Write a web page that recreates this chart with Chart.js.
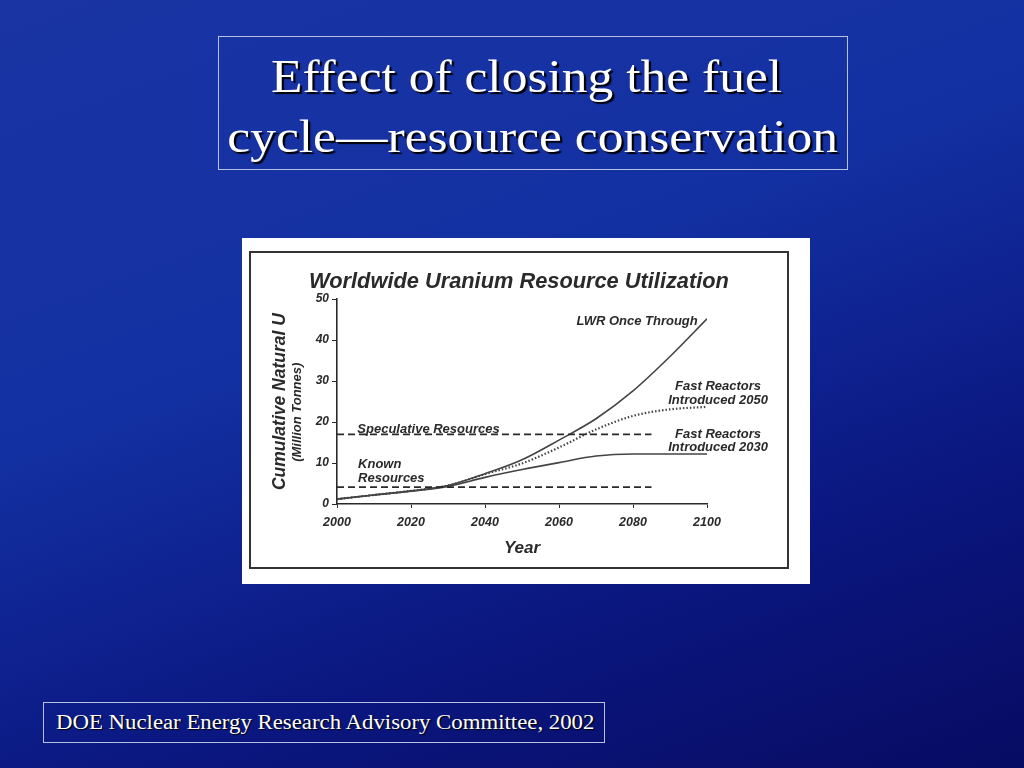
<!DOCTYPE html>
<html>
<head>
<meta charset="utf-8">
<script src="https://cdn.jsdelivr.net/npm/chart.js@4"></script>
<style>
  body { margin: 0; width: 1024px; height: 768px; overflow: hidden;
    background: linear-gradient(160deg, #1a34a4 0%, #1330a2 40%, #0b1882 70%, #070b62 100%);
    position: relative; font-family: "Liberation Serif", "Times New Roman", serif; }
  #titleBox { position: absolute; left: 218px; top: 36px; width: 630px; height: 134px;
    border: 1px solid #b8c0e0; box-sizing: border-box; color: #fff; text-align: center;
    font-size: 46px; line-height: 60px; padding-top: 10px; text-shadow: 2px 2px 1px #000; }
  #titleBox span { display: inline-block; transform: scaleX(1.12); white-space: pre; }
  #imgBox { position: absolute; left: 242px; top: 238px; width: 568px; height: 346px; background: #fff; }
  #frame { position: absolute; left: 7px; top: 13px; width: 540px; height: 318px;
    border: 2px solid #333; box-sizing: border-box; }
  #chartWrap { position: absolute; left: 0; top: 0; width: 536px; height: 314px; }
  #footBox { position: absolute; left: 43px; top: 702px; width: 562px; height: 41px;
    border: 1px solid #b8c0e0; box-sizing: border-box; color: #fff; font-size: 20px;
    line-height: 39px; padding-left: 12px; text-shadow: 1px 1px 1px #000; }
  #footBox span { display: inline-block; transform: scaleX(1.14); transform-origin: left center; }
</style>
</head>
<body>
<div id="titleBox"><span>Effect of closing the fuel </span><br><span>cycle—resource conservation</span></div>
<div id="imgBox">
  <div id="frame">
    <div id="chartWrap"><canvas id="myChart"></canvas></div>
  </div>
</div>
<div id="footBox"><span>DOE Nuclear Energy Research Advisory Committee, 2002</span></div>

<script>
// Data (million tonnes of natural U)
const years = [2000, 2010, 2020, 2030, 2040, 2050, 2060, 2070, 2080, 2090, 2100];
const lwrOnceThrough = [1.2, 2.2, 3.2, 4.5, 7.4, 10.8, 15.6, 20.8, 27.6, 36.0, 45.2];
const fast2050 = [1.2, 2.2, 3.2, 4.5, 7.3, 9.9, 13.8, 18.2, 21.5, 23.1, 23.7];
const fast2030 = [1.2, 2.2, 3.1, 4.3, 6.5, 8.4, 10.1, 11.7, 12.2, 12.2, 12.2];
const resourceYears = [2000, 2085];
const knownResources = [4.1, 4.1];
const speculativeResources = [17.0, 17.0];
const xTicks = [2000, 2020, 2040, 2060, 2080, 2100];
const yTicks = [0, 10, 20, 30, 40, 50];

const family = '"Liberation Sans", Arial, sans-serif';
const labelFont = 'italic bold 13px ' + family;
const ink = '#2a2a2a';

function pts(xs, ys) {
  return xs.map((x, i) => ({ x: x, y: ys[i] }));
}

//------------------------------------------------------------
// text labels placed in data coordinates
const notes = [
  { text: 'LWR Once Through', x: 2097.5, y: 44.6, align: 'right' },
  { text: 'Fast Reactors', x: 2103, y: 28.8, align: 'center' },
  { text: 'Introduced 2050', x: 2103, y: 25.4, align: 'center' },
  { text: 'Fast Reactors', x: 2103, y: 17.1, align: 'center' },
  { text: 'Introduced 2030', x: 2103, y: 13.7, align: 'center' },
  { text: 'Speculative Resources', x: 2005.5, y: 18.3, align: 'left' },
  { text: 'Known', x: 2005.7, y: 9.6, align: 'left' },
  { text: 'Resources', x: 2005.7, y: 6.2, align: 'left' }
];

const notesPlugin = {
  id: 'notes',
  afterDatasetsDraw(chart) {
    const { ctx, scales } = chart;
    ctx.save();
    ctx.fillStyle = ink;
    ctx.font = labelFont;
    ctx.textBaseline = 'middle';
    notes.forEach((n) => {
      ctx.textAlign = n.align;
      ctx.fillText(n.text, scales.x.getPixelForValue(n.x), scales.y.getPixelForValue(n.y));
    });
    // second line of the y axis title
    ctx.translate(46, scales.y.getPixelForValue(22.4));
    ctx.rotate(-Math.PI / 2);
    ctx.textAlign = 'center';
    ctx.font = 'italic bold 13px ' + family;
    ctx.fillText('(Million Tonnes)', 0, 0);
    ctx.restore();
  }
};

const lineStyle = (label, data, dash, width, color) => ({
  label: label,
  data: data,
  borderColor: color,
  borderWidth: width,
  borderDash: dash,
  pointRadius: 0,
  fill: false,
  tension: 0.4,
  cubicInterpolationMode: 'monotone'
});

const config = {
  type: 'line',
  data: {
    datasets: [
      lineStyle('Speculative Resources', pts(resourceYears, speculativeResources), [7, 4], 1.8, ink),
      lineStyle('Known Resources', pts(resourceYears, knownResources), [7, 4], 1.8, ink),
      lineStyle('LWR Once Through', pts(years, lwrOnceThrough), [], 1.6, '#444'),
      lineStyle('Fast Reactors Introduced 2050', pts(years, fast2050), [1.5, 2], 2.2, '#444'),
      lineStyle('Fast Reactors Introduced 2030', pts(years, fast2030), [], 1.6, '#444')
    ]
  },
  options: {
    responsive: true,
    maintainAspectRatio: false,
    animation: false,
    layout: { padding: 0 },
    plugins: {
      legend: { display: false },
      tooltip: { enabled: false },
      title: {
        display: true,
        text: 'Worldwide Uranium Resource Utilization',
        color: ink,
        font: { family: family, size: 21.8, style: 'italic', weight: 'bold', lineHeight: 1.2 },
        padding: { top: 16, bottom: 4 }
      }
    },
    scales: {
      x: {
        type: 'linear',
        min: 2000,
        max: 2100,
        afterBuildTicks: (scale) => { scale.ticks = xTicks.map((v) => ({ value: v })); },
        afterFit: (scale) => { scale.height = 63; },
        ticks: {
          color: ink,
          padding: 7,
          maxRotation: 0,
          font: { family: family, size: 12.5, style: 'italic', weight: 'bold' },
          callback: (v) => String(v)
        },
        grid: { drawOnChartArea: false, drawTicks: true, tickLength: 4, color: ink },
        border: { color: ink, width: 1.6 },
        title: {
          display: true,
          text: 'Year',
          color: ink,
          font: { family: family, size: 17, style: 'italic', weight: 'bold', lineHeight: 1.2 },
          padding: { top: 8, bottom: 8 }
        }
      },
      y: {
        min: 0,
        max: 50,
        afterBuildTicks: (scale) => { scale.ticks = yTicks.map((v) => ({ value: v })); },
        afterFit: (scale) => { scale.width = 86; },
        ticks: {
          color: ink,
          padding: 3,
          font: { family: family, size: 12, style: 'italic', weight: 'bold' }
        },
        grid: { drawOnChartArea: false, drawTicks: true, tickLength: 5, color: ink },
        border: { color: ink, width: 1.6 },
        title: {
          display: true,
          text: 'Cumulative Natural U',
          color: ink,
          font: { family: family, size: 17.5, style: 'italic', weight: 'bold', lineHeight: 1.2 },
          padding: { top: 18.5, bottom: 0 }
        }
      },
      // empty right-hand axis that only reserves room for the series labels
      yRoom: {
        position: 'right',
        min: 0,
        max: 50,
        afterFit: (scale) => { scale.width = 80; },
        ticks: { display: false },
        grid: { display: false },
        border: { display: false }
      }
    }
  },
  plugins: [notesPlugin]
};

const canvas = document.getElementById('myChart');
const myChart = new Chart(canvas, config);
</script>
</body>
</html>
